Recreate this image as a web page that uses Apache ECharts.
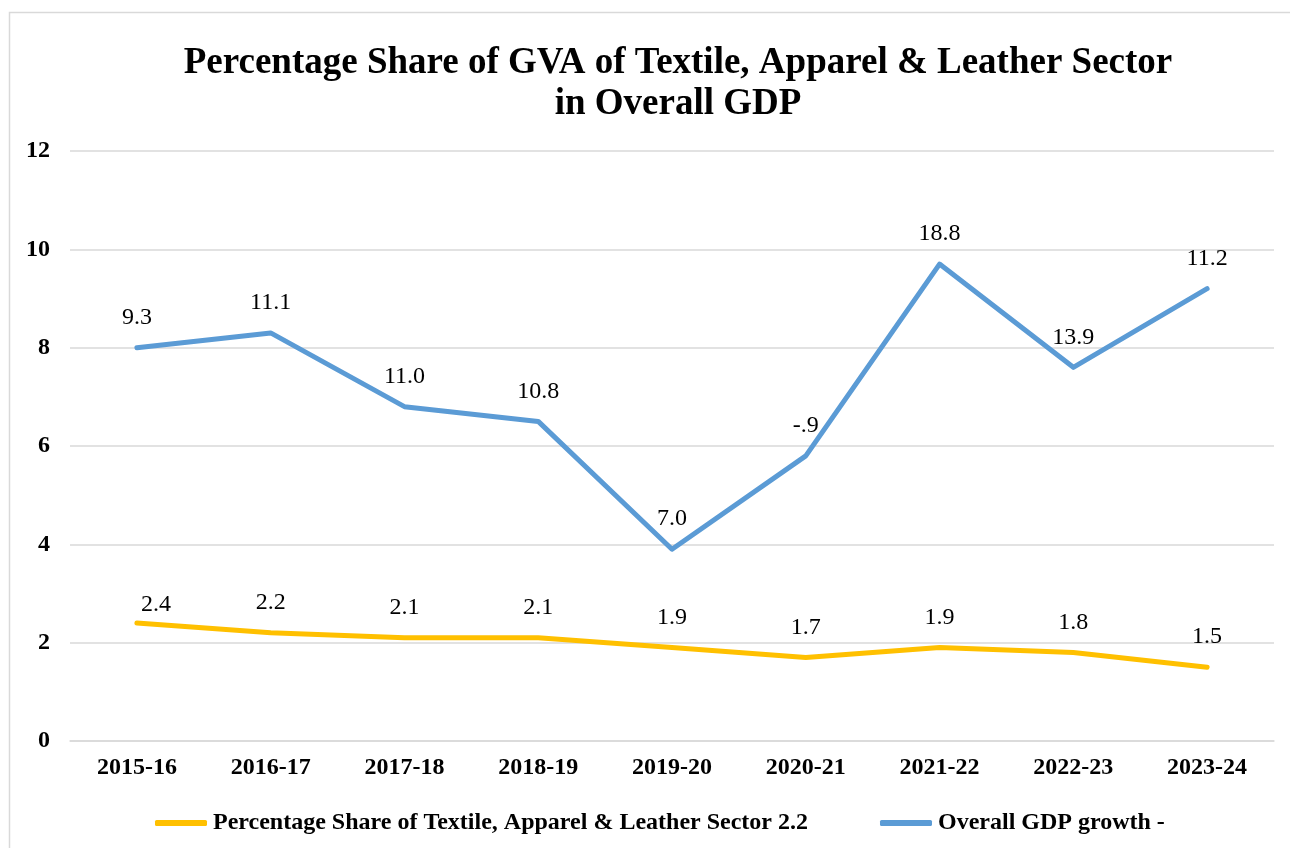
<!DOCTYPE html>
<html>
<head>
<meta charset="utf-8">
<script src="https://cdn.jsdelivr.net/npm/echarts@6/dist/echarts.min.js"></script>
<style>
html,body{margin:0;padding:0;background:#fff;}
#chart{width:1290px;height:848px;}
</style>
</head>
<body>
<div id="chart"></div>
<script>
const categories = ['2015-16','2016-17','2017-18','2018-19','2019-20','2020-21','2021-22','2022-23','2023-24'];
const textileShare = [2.4, 2.2, 2.1, 2.1, 1.9, 1.7, 1.9, 1.8, 1.5];
const gdpPlotted = [8.0, 8.3, 6.8, 6.5, 3.9, 5.8, 9.7, 7.6, 9.2];
const gdpLabels = ['9.3','11.1','11.0','10.8','7.0','-.9','18.8','13.9','11.2'];
const yTicks = [0, 2, 4, 6, 8, 10, 12];

const FONT = '"Liberation Serif", "Times New Roman", serif';

const chart = echarts.init(document.getElementById('chart'), null, {renderer:'canvas'});

const textileData = textileShare.map((v, i) => i === 0
  ? {value: v, label: {offset: [19, 12]}}
  : v);

chart.setOption({
  backgroundColor: '#fff',
  animation: false,
  graphic: [{
    type: 'rect',
    shape: {x: 9.5, y: 12.5, width: 1400, height: 1000},
    style: {fill: 'none', stroke: '#D9D9D9', lineWidth: 1.5},
    silent: true, z: -10
  }],
  title: {
    text: 'Percentage Share of GVA of Textile, Apparel & Leather Sector\nin Overall GDP',
    left: 673, top: 38, textAlign: 'center',
    textStyle: {fontFamily: FONT, fontWeight: 'bold', fontSize: 37, lineHeight: 41, color: '#000'}
  },
  grid: {left: 70, right: 16, top: 151, bottom: 107, containLabel: false},
  legend: {
    left: 150, top: 806,
    itemWidth: 52, itemHeight: 6, itemGap: 72,
    icon: 'roundRect',
    textStyle: {fontFamily: FONT, fontWeight: 'bold', fontSize: 24, color: '#000', padding: [0,0,0,1]},
    data: ['Percentage Share of Textile, Apparel & Leather Sector 2.2', 'Overall GDP growth -']
  },
  xAxis: {
    type: 'category', data: categories, boundaryGap: true,
    axisLine: {show: true, lineStyle: {color: '#D9D9D9', width: 1.5}},
    axisTick: {show: false},
    axisLabel: {fontFamily: FONT, fontWeight: 'bold', fontSize: 24, color: '#000', margin: 15}
  },
  yAxis: {
    type: 'value', min: yTicks[0], max: yTicks[yTicks.length-1], interval: 2,
    axisLine: {show: false}, axisTick: {show: false},
    splitLine: {lineStyle: {color: '#D9D9D9', width: 1.5}},
    axisLabel: {fontFamily: FONT, fontWeight: 'bold', fontSize: 24, color: '#000', margin: 20}
  },
  series: [
    {
      name: 'Percentage Share of Textile, Apparel & Leather Sector 2.2',
      type: 'line', data: textileData,
      symbol: 'circle', symbolSize: 0.1, showSymbol: true,
      lineStyle: {color: '#FFC000', width: 5, cap: 'round', join: 'round'},
      itemStyle: {color: '#FFC000'},
      label: {show: true, position: 'top', distance: 18, fontFamily: FONT, fontSize: 24, color: '#000',
        formatter: p => textileShare[p.dataIndex].toFixed(1)}
    },
    {
      name: 'Overall GDP growth -',
      type: 'line', data: gdpPlotted,
      symbol: 'circle', symbolSize: 0.1, showSymbol: true,
      lineStyle: {color: '#5B9BD5', width: 5, cap: 'round', join: 'round'},
      itemStyle: {color: '#5B9BD5'},
      label: {show: true, position: 'top', distance: 18, fontFamily: FONT, fontSize: 24, color: '#000',
        formatter: p => gdpLabels[p.dataIndex]}
    }
  ]
});
</script>
</body>
</html>
